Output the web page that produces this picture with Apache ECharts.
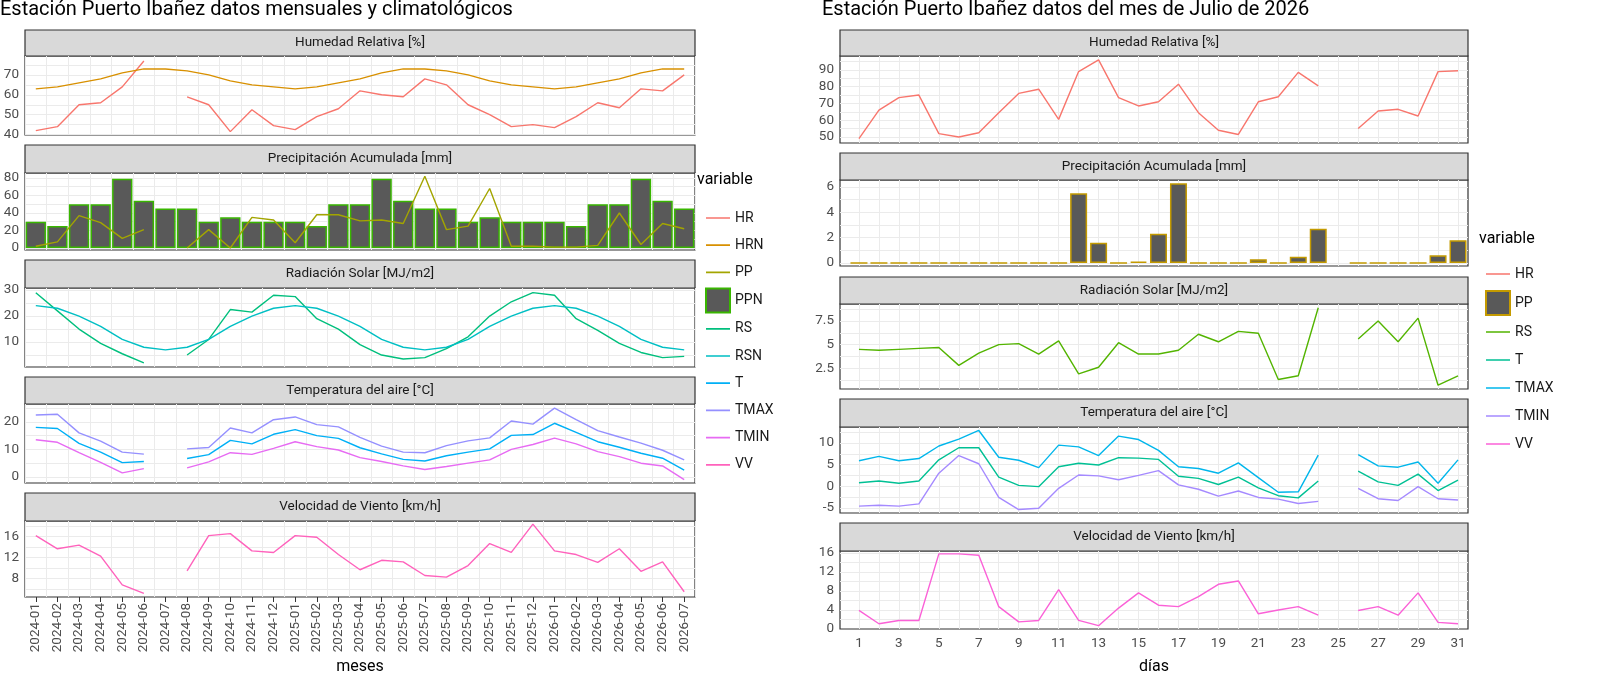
<!DOCTYPE html>
<html>
<head>
<meta charset="utf-8">
<script src="https://cdn.jsdelivr.net/npm/echarts@6/dist/echarts.min.js"></script>
<style>
  html, body { margin: 0; width: 100%; height: 100%; background: #fff; }
  #chart { width: 1600px; height: 676px; }
</style>
</head>
<body>
<div id="chart"></div>
<script>
// ---- datos mensuales (2024-01 .. 2026-07)
var meses = ['2024-01','2024-02','2024-03','2024-04','2024-05','2024-06','2024-07','2024-08','2024-09','2024-10','2024-11','2024-12',
  '2025-01','2025-02','2025-03','2025-04','2025-05','2025-06','2025-07','2025-08','2025-09','2025-10','2025-11','2025-12',
  '2026-01','2026-02','2026-03','2026-04','2026-05','2026-06','2026-07'];
var HR  = [42,44,55,56,64,77,null,59,55,41.5,52.5,44.5,42.5,49,53,62,60,59,68,65,55,50,44,45,43.5,49,56,53.5,63,62,70];
var HRN = [63,64,66,68,71,73,73,72,70,67,65,64,63,64,66,68,71,73,73,72,70,67,65,64,63,64,66,68,71,73,73];
var PP  = [2,7,37,29,11,21,null,0,21,0,35,32,6,38,38,31,32,28,82,21,25,68,2,2,1,1,3,40,4,28,22];
var PPN = [30,25,50,50,79,54,45,45,30,35,30,30,30,25,50,50,79,54,45,45,30,35,30,30,30,25,50,50,79,54,45];
var RS  = [29,22,15,9.5,5.5,2,null,5,11,22.5,21.5,28,27.5,19,15,9,5,3.5,4,7.5,12,20,25.5,29,28,19,14.5,9.5,6,4,4.5];
var RSN = [24,23,20,16,11,8,7,8,11,16,20,23,24,23,20,16,11,8,7,8,11,16,20,23,24,23,20,16,11,8,7];
var TMAX = [22.5,22.8,16,13,9,8.3,null,10.2,10.7,17.8,16,20.8,21.8,19,18.2,14.4,11.2,9,8.8,11.4,13.1,14.2,20.3,19.2,25,20.8,16.8,14.5,12.3,9.7,6.2];
var T    = [18,17.6,12.2,9,5.2,5.6,null,6.7,8.1,13.3,12,15.5,17.2,15,14,10.6,8.4,6.4,5.8,7.7,9,10.2,15.1,15.4,19.5,16.2,12.8,10.8,8.6,6.8,2.5];
var TMIN = [13.5,12.6,8.8,5.3,1.5,3,null,3.3,5.5,8.8,8.2,10.4,12.8,11,9.8,7,5.6,4,2.7,3.8,5,6.2,10,11.8,14.1,12,9.2,7.4,5,4,-1];
var VV   = [16.2,13.7,14.4,12.3,6.8,5.2,null,9.5,16.2,16.6,13.3,13,16.2,15.9,12.6,9.7,11.5,11.2,8.6,8.3,10.5,14.7,13,18.4,13.3,12.6,11.1,13.7,9.4,11.2,5.5];

// ---- datos diarios julio 2026
var dias = [];
for (var d = 1; d <= 31; d++) dias.push(d);
var dHR   = [49,66,73.5,75,52,50,52.5,64.5,76,78.5,60.5,89,96,73.5,68.5,71,81.5,64.5,54,51.5,71,74,88.5,80.5,null,55,65.5,66.5,62.5,89,89.5];
var dPP   = [0,0,0,0,0,0,0,0,0,0,0,5.5,1.6,0,0.1,2.3,6.3,0,0,0,0.3,0,0.5,2.7,null,0,0,0,0,0.6,1.8];
var dRS   = [4.5,4.4,4.5,4.6,4.7,2.8,4.1,5,5.1,4,5.4,1.9,2.6,5.2,4,4,4.4,6.1,5.3,6.4,6.2,1.3,1.7,8.9,null,5.6,7.5,5.3,7.8,0.7,1.7];
var dTMAX = [5.9,6.9,5.9,6.4,9.3,10.9,12.9,6.7,6,4.3,9.5,9.1,7.1,11.6,10.8,8.3,4.5,4.1,3,5.4,2,-1.4,-1.3,7.2,null,7.3,4.7,4.4,5.6,0.7,6.1];
var dT    = [0.8,1.2,0.7,1.2,6.1,8.9,8.9,2.1,0.2,-0.1,4.5,5.3,4.9,6.6,6.5,6.2,2.3,1.8,0.4,2.1,-0.4,-2.2,-2.7,1.2,null,3.5,1,0.2,2.8,-1,1.4];
var dTMIN = [-4.6,-4.4,-4.6,-4.1,3,7.1,5.2,-2.6,-5.4,-5.1,-0.5,2.6,2.4,1.5,2.5,3.6,0.3,-0.7,-2.3,-1.1,-2.6,-3,-4,-3.5,null,-0.5,-2.9,-3.3,-0.1,-2.9,-3.2];
var dVV   = [3.9,1.1,1.8,1.8,15.8,15.8,15.5,4.7,1.5,1.8,8.3,1.8,0.7,4.4,7.6,5,4.7,6.8,9.4,10.1,3.2,4,4.7,2.9,null,3.9,4.7,2.9,7.6,1.4,1.1];

var panelTitles = ['Humedad Relativa [%]', 'Precipitación Acumulada [mm]', 'Radiación Solar [MJ/m2]', 'Temperatura del aire [°C]', 'Velocidad de Viento [km/h]'];

var FONT = 'Roboto';
var ZW = '\u200b'; // sufijo para separar nombres del panel derecho

// posiciones de paneles [stripTop, plotTop, plotBottom]
var leftP  = [[30,56,135],[145,173,250],[260,288,367],[377,404,483],[493,521,599]];
var rightP = [[30,56,143],[153,180,266],[277,304,389],[399,427,513],[523,551,637]];
var LX = [25, 695], RX = [840, 1468];

var leftY  = [[39.8,79.5,[40,50,60,70]],[-2.3,85.7,[0,20,40,60,80]],[0.4,30.8,[10,20,30]],[-2.2,26.5,[0,10,20]],[4.5,19,[8,12,16]]];
var rightY = [[46.4,98.3,[50,60,70,80,90]],[-0.24,6.55,[0,2,4,6]],[0.3,9.3,[2.5,5,7.5]],[-6.2,13.7,[-5,0,5,10]],[0,16.4,[0,4,8,12,16]]];

function halves(v) {
  var step = v[1] - v[0], out = [v[0] - step / 2];
  v.forEach(function (x) { out.push(x); out.push(x + step / 2); });
  return out;
}

var grids = [], xAxes = [], yAxes = [], graphics = [];
var grid0 = { show: true, backgroundColor: '#fff', borderColor: '#333', borderWidth: 1.2 };
function addPanel(P, X, Yr, i, isLeft) {
  var gi = grids.length;
  grids.push(Object.assign({ left: X[0], width: X[1] - X[0], top: P[1], height: P[2] - P[1] }, grid0));
  graphics.push({ type: 'rect', shape: { x: X[0], y: P[0], width: X[1] - X[0], height: P[1] - P[0] },
    style: { fill: '#D9D9D9', stroke: '#333', lineWidth: 1.2 } });
  graphics.push({ type: 'text', x: (X[0] + X[1]) / 2, y: (P[0] + P[1]) / 2,
    style: { text: panelTitles[i], font: '13.5px ' + FONT, fill: '#1A1A1A', align: 'center', verticalAlign: 'middle' } });
  var last = i === 4;
  var lbl = { show: last, color: '#4D4D4D', fontFamily: FONT, fontSize: 13.5 };
  if (isLeft) {
    xAxes.push({ type: 'category', gridIndex: gi, data: meses, boundaryGap: true,
      axisLine: { show: false }, axisTick: { show: last, alignWithLabel: true, lineStyle: { color: '#333' } },
      axisLabel: Object.assign({ rotate: 90, interval: 0, margin: 6 }, lbl),
      splitLine: { show: true, interval: 0, lineStyle: { color: '#EBEBEB' } },
      name: last ? 'meses' : '', nameLocation: 'middle', nameGap: 62, nameTextStyle: { fontFamily: FONT, fontSize: 16, color: '#000' } });
  } else {
    var odd = dias.filter(function (d) { return d % 2 === 1; });
    xAxes.push({ type: 'value', gridIndex: gi, min: 0.05, max: 31.5,
      axisLine: { show: false },
      axisTick: { show: false, customValues: dias },
      axisLabel: Object.assign({ customValues: odd, margin: 8 }, lbl),
      splitLine: { show: true, lineStyle: { color: '#EBEBEB' } },
      name: last ? 'días' : '', nameLocation: 'middle', nameGap: 30, nameTextStyle: { fontFamily: FONT, fontSize: 16, color: '#000' } });
  }
  yAxes.push({ type: 'value', gridIndex: gi, min: Yr[0], max: Yr[1],
    axisLine: { show: false },
    axisTick: { show: true, customValues: halves(Yr[2]).filter(function (v) { return v > Yr[0] && v < Yr[1]; }), length: 0 },
    axisLabel: { customValues: Yr[2], color: '#4D4D4D', fontFamily: FONT, fontSize: 13.5, margin: 6 },
    splitLine: { show: true, lineStyle: { color: '#EBEBEB' } } });
  return gi;
}

var series = [];
function line(name, gi, data, color, isLeft) {
  series.push({ name: name, type: 'line', xAxisIndex: gi, yAxisIndex: gi, symbol: 'none',
    connectNulls: false, lineStyle: { width: 1.4, color: color }, itemStyle: { color: color },
    data: isLeft ? data.map(function (v) { return v === null ? '-' : v; })
                 : data.map(function (v, k) { return [dias[k], v === null ? '-' : v]; }) });
}

var gL = [], gR = [];
for (var i = 0; i < 5; i++) gL.push(addPanel(leftP[i], LX, leftY[i], i, true));
for (var i = 0; i < 5; i++) gR.push(addPanel(rightP[i], RX, rightY[i], i, false));

// izquierda
line('HR', gL[0], HR, '#F8766D', true);
line('HRN', gL[0], HRN, '#D89000', true);
series.push({ name: 'PPN', type: 'bar', xAxisIndex: gL[1], yAxisIndex: gL[1], barCategoryGap: '6%',
  itemStyle: { color: '#595959', borderColor: '#39B600', borderWidth: 1.5 }, data: PPN, z: 1 });
line('PP', gL[1], PP, '#A3A500', true);
line('RS', gL[2], RS, '#00BF7D', true);
line('RSN', gL[2], RSN, '#00BFC4', true);
line('T', gL[3], T, '#00B0F6', true);
line('TMAX', gL[3], TMAX, '#9590FF', true);
line('TMIN', gL[3], TMIN, '#E76BF3', true);
line('VV', gL[4], VV, '#FF62BC', true);

// derecha
line('HR' + ZW, gR[0], dHR, '#F8766D', false);
series.push({ name: 'PP' + ZW, type: 'bar', xAxisIndex: gR[1], yAxisIndex: gR[1], barWidth: 17,
  itemStyle: { color: '#595959', borderColor: '#C49A00', borderWidth: 1.5 },
  data: dPP.map(function (v, k) { return [dias[k], v === null ? '-' : v]; }) });
line('RS' + ZW, gR[2], dRS, '#53B400', false);
line('T' + ZW, gR[3], dT, '#00C094', false);
line('TMAX' + ZW, gR[3], dTMAX, '#00B6EB', false);
line('TMIN' + ZW, gR[3], dTMIN, '#A58AFF', false);
line('VV' + ZW, gR[4], dVV, '#FB61D7', false);

var LINE_ICON = 'path://M0,0h0.01v0.01h-0.01z M0,9.3h20v1.4h-20z M19.99,19.99h0.01v0.01h-0.01z';
var BOX_ICON = 'path://M1,1h18v18h-18z';
function legendItems(names) {
  return names.map(function (n) {
    return { name: n, icon: (n === 'PPN' || n === 'PP' + ZW) ? BOX_ICON : LINE_ICON };
  });
}
var legTxt = { fontFamily: FONT, fontSize: 14, color: '#1A1A1A' };
var legendL = { orient: 'vertical', left: 700, top: 201, itemWidth: 24, itemHeight: 24, itemGap: 3.2,
  selectedMode: false, textStyle: legTxt,
  data: legendItems(['HR','HRN','PP','PPN','RS','RSN','T','TMAX','TMIN','VV']) };
var legendR = { orient: 'vertical', left: 1480, top: 257, itemWidth: 24, itemHeight: 24, itemGap: 4,
  selectedMode: false, textStyle: legTxt,
  formatter: function (n) { return n.replace(ZW, ''); },
  data: legendItems(['HR','PP','RS','T','TMAX','TMIN','VV'].map(function (n) { return n + ZW; })) };

graphics.push({ type: 'text', x: 0, y: 0, style: { text: 'Estación Puerto Ibañez datos mensuales y climatológicos', font: '20px ' + FONT, fill: '#000' } });
graphics.push({ type: 'text', x: 822, y: 0, style: { text: 'Estación Puerto Ibañez datos del mes de Julio de 2026', font: '20px ' + FONT, fill: '#000' } });
graphics.push({ type: 'text', x: 697, y: 172, style: { text: 'variable', font: '16px ' + FONT, fill: '#000' } });
graphics.push({ type: 'text', x: 1479, y: 231, style: { text: 'variable', font: '16px ' + FONT, fill: '#000' } });

var myChart = echarts.init(document.getElementById('chart'));
myChart.setOption({
  animation: false,
  backgroundColor: '#fff',
  grid: grids,
  xAxis: xAxes,
  yAxis: yAxes,
  legend: [legendL, legendR],
  graphic: graphics,
  series: series
});
</script>
</body>
</html>
